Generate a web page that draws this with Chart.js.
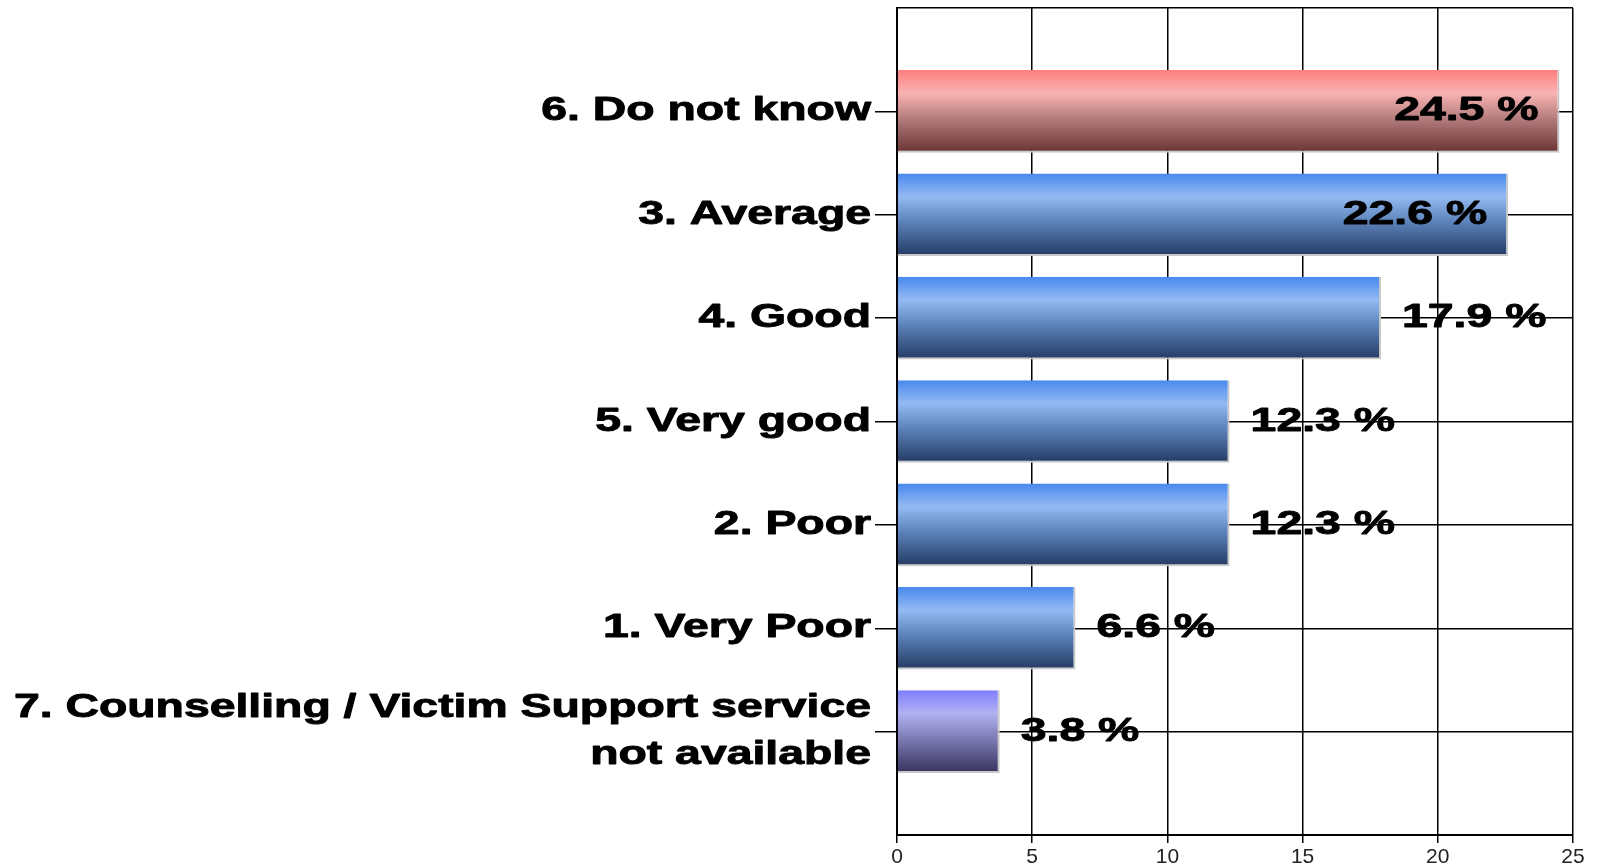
<!DOCTYPE html>
<html>
<head>
<meta charset="utf-8">
<script src="https://cdn.jsdelivr.net/npm/chart.js@4.4.0/dist/chart.umd.min.js"></script>
<style>
  html, body { margin: 0; padding: 0; background: #fff; overflow: hidden; }
  #wrap { width: 1600px; height: 867px; overflow: hidden; }
  #box { width: 1600px; height: 880px; }
</style>
</head>
<body>
<div id="wrap"><div id="box"><canvas id="barChart"></canvas></div></div>
<script>
// data (top to bottom)
const categories = [
    '6. Do not know',
    '3. Average',
    '4. Good',
    '5. Very good',
    '2. Poor',
    '1. Very Poor',
    ['7. Counselling / Victim Support service', 'not available']
];
const percentages = [24.5, 22.6, 17.9, 12.3, 12.3, 6.6, 3.8];
const xTicks = [0, 5, 10, 15, 20, 25];

// bar gradients: red for "do not know", purple for "not available", blue otherwise
const barStyles = ['red', 'blue', 'blue', 'blue', 'blue', 'blue', 'purple'];
const gradients = {
    blue:   ['#4a89ef', '#93baf2', '#5a80b8', '#243a63'],
    red:    ['#ff7f7f', '#f9b3b3', '#b27a7a', '#6a3434'],
    purple: ['#7f7fff', '#b1b1f2', '#7a78b0', '#37345f']
};

// empty slot above and below so grid lines run through the bar centres
const labels = [''].concat(categories, ['']);
const values = [null].concat(percentages, [null]);
const styles = [null].concat(barStyles, [null]);

const STRETCH = 1.405;
const TEXT_FONT = 'bold 33px "Liberation Sans", Arial, sans-serif';

function barFill(ctx) {
    const chart = ctx.chart;
    const style = styles[ctx.dataIndex] || 'blue';
    const stops = gradients[style];
    const ys = chart.scales.y;
    if (!chart.chartArea || !ys) return stops[1];
    const c = ys.getPixelForValue(ctx.dataIndex);
    const g = chart.ctx.createLinearGradient(0, c - 41, 0, c + 41);
    g.addColorStop(0, stops[0]);
    g.addColorStop(0.28, stops[1]);
    g.addColorStop(0.6, stops[2]);
    g.addColorStop(1, stops[3]);
    return g;
}

function drawText(ctx, txt, x, y) {
    ctx.save();
    ctx.translate(x, y);
    ctx.scale(STRETCH, 1);
    ctx.strokeText(txt, 0, 0);
    ctx.fillText(txt, 0, 0);
    ctx.restore();
}

const textPlugin = {
    id: 'stretchedText',
    afterDatasetsDraw(chart) {
        const ctx = chart.ctx;
        const ys = chart.scales.y;
        const area = chart.chartArea;

        ctx.save();
        ctx.font = TEXT_FONT;
        ctx.fillStyle = '#000';
        ctx.strokeStyle = '#000';
        ctx.lineWidth = 0.9;
        ctx.lineJoin = 'round';
        ctx.textBaseline = 'middle';

        // category labels
        ctx.textAlign = 'right';
        labels.forEach((lab, i) => {
            if (!lab) return;
            const lines = Array.isArray(lab) ? lab : [lab];
            const y = ys.getPixelForTick(i);
            const lh = 47;
            const start = -(lines.length - 1) * lh / 2;
            lines.forEach((line, k) => drawText(ctx, line, 871, y + start + k * lh));
        });

        // value labels
        const meta = chart.getDatasetMeta(0);
        meta.data.forEach((bar, i) => {
            if (values[i] == null) return;
            const txt = values[i].toFixed(1) + ' %';
            const w = ctx.measureText(txt).width * STRETCH;
            if (bar.x + 21 + w > area.right) {
                ctx.textAlign = 'right';
                drawText(ctx, txt, bar.x - 21, bar.y);
            } else {
                ctx.textAlign = 'left';
                drawText(ctx, txt, bar.x + 21, bar.y);
            }
        });
        ctx.restore();
    }
};

const chart = new Chart(document.getElementById('barChart'), {
    type: 'bar',
    data: {
        labels: labels,
        datasets: [{
            data: values,
            backgroundColor: barFill,
            borderColor: '#c8c8c8',
            borderWidth: { top: 0, left: 0, right: 2, bottom: 2 },
            borderSkipped: false,
            categoryPercentage: 1,
            barPercentage: 0.8
        }]
    },
    options: {
        indexAxis: 'y',
        responsive: true,
        maintainAspectRatio: false,
        animation: false,
        layout: { padding: { top: 8, right: 27, left: 0, bottom: 0 } },
        plugins: {
            legend: { display: false },
            tooltip: { enabled: false }
        },
        scales: {
            x: {
                min: 0,
                max: 25,
                afterBuildTicks: (scale) => { scale.ticks = xTicks.map(v => ({ value: v })); },
                afterFit: (scale) => { scale.height = 45; },
                border: { color: '#000', width: 2 },
                grid: { color: '#000', lineWidth: 1.5, tickLength: 8 },
                ticks: {
                    color: '#222',
                    padding: 2,
                    font: { family: '"Liberation Sans", Arial, sans-serif', size: 21 }
                }
            },
            y: {
                offset: false,
                afterFit: (scale) => { scale.width = 897; },
                border: { color: '#000', width: 2 },
                grid: {
                    color: '#000',
                    lineWidth: 1.5,
                    tickLength: 22,
                    offset: false,
                    tickColor: (c) => (labels[c.index] ? '#000' : 'rgba(0,0,0,0)')
                },
                ticks: { display: false, autoSkip: false }
            }
        }
    },
    plugins: [textPlugin]
});
</script>
</body>
</html>
